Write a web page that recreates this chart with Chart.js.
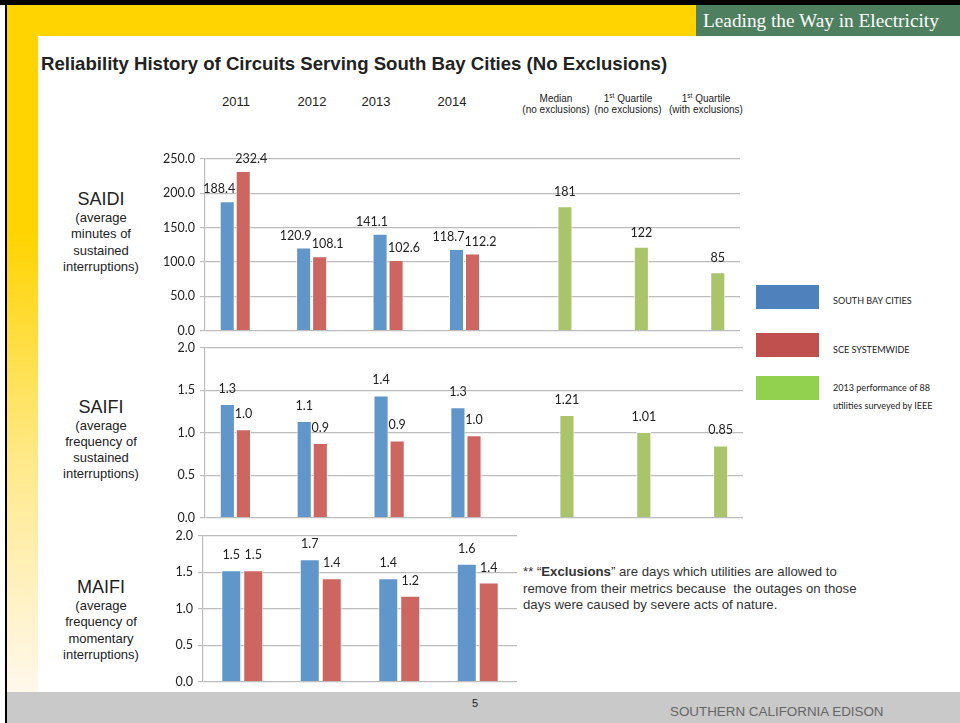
<!DOCTYPE html>
<html>
<head>
<meta charset="utf-8">
<script src="https://cdn.jsdelivr.net/npm/chart.js@4.4.1/dist/chart.umd.min.js"></script>
<style>
  html, body { margin: 0; padding: 0; }
  body { width: 960px; height: 723px; position: relative; overflow: hidden; background: #fff; font-family: Arial, "Liberation Sans", sans-serif; color: #222; }
  .abs { position: absolute; }
  #topbar { left: 0; top: 0; width: 960px; height: 5px; background: #000; }
  #leftline { left: 5px; top: 0; width: 2px; height: 723px; background: #000; }
  #yellowTop { left: 7px; top: 5px; width: 953px; height: 31px; background: #FFD400; }
  #yellowLeft { left: 7px; top: 36px; width: 31px; height: 656px; background: linear-gradient(#FFD400 0%, #FFD400 30%, #FFE98A 65%, #FFF8EC 100%); }
  #brand { left: 696px; top: 5px; width: 264px; height: 31px; background: #4E7F5E; color: #fff; font-family: "Liberation Serif", "DejaVu Serif", serif; font-size: 19.3px; line-height: 31px; padding-left: 7px; box-sizing: border-box; white-space: nowrap; }
  #footer { left: 7px; top: 692px; width: 953px; height: 31px; background: #C9C9C9; }
  #pageno { left: 472px; top: 697px; font-size: 11px; color: #222; }
  #company { left: 670px; top: 704px; font-size: 13.4px; color: #666; }
  #title { left: 41px; top: 53px; font-size: 18.6px; font-weight: bold; color: #222; white-space: nowrap; }
  .yr { top: 94px; font-size: 13px; width: 40px; text-align: center; }
  .hdr { top: 93px; font-size: 10px; text-align: center; line-height: 11px; white-space: nowrap; }
  .hdr sup { font-size: 6.5px; vertical-align: 4px; line-height: 0; }
  .side { left: 41px; width: 120px; text-align: center; font-size: 13px; line-height: 16.3px; color: #222; }
  .side b { font-weight: normal; font-size: 18px; line-height: 22px; display: block; }
  .lg { left: 756px; width: 63px; height: 24px; }
  .lgt { left: 833px; font-family: Lato, "Open Sans", sans-serif; font-size: 10.4px; color: #222; line-height: 18px; white-space: nowrap; transform: scaleX(0.87); transform-origin: 0 0; }
  #note { left: 523px; top: 564px; font-size: 13.2px; line-height: 16.5px; color: #333; white-space: nowrap; }
  canvas { position: absolute; }
</style>
</head>
<body>
<div class="abs" id="topbar"></div>
<div class="abs" id="yellowTop"></div>
<div class="abs" id="yellowLeft"></div>
<div class="abs" id="leftline"></div>
<div class="abs" id="brand">Leading the Way in Electricity</div>
<div class="abs" id="footer"></div>
<div class="abs" id="pageno">5</div>
<div class="abs" id="company">SOUTHERN CALIFORNIA EDISON</div>

<div class="abs" id="title">Reliability History of Circuits Serving South Bay Cities (No Exclusions)</div>

<div class="abs yr" style="left:216px">2011</div>
<div class="abs yr" style="left:292px">2012</div>
<div class="abs yr" style="left:356px">2013</div>
<div class="abs yr" style="left:432px">2014</div>
<div class="abs hdr" style="left:516px;width:80px">Median<br>(no exclusions)</div>
<div class="abs hdr" style="left:588px;width:80px">1<sup>st</sup> Quartile<br>(no exclusions)</div>
<div class="abs hdr" style="left:665px;width:82px">1<sup>st</sup> Quartile<br>(with exclusions)</div>

<div class="abs side" style="top:188px"><b>SAIDI</b>(average<br>minutes of<br>sustained<br>interruptions)</div>
<div class="abs side" style="top:396px;line-height:16px"><b>SAIFI</b>(average<br>frequency of<br>sustained<br>interruptions)</div>
<div class="abs side" style="top:576px"><b>MAIFI</b>(average<br>frequency of<br>momentary<br>interruptions)</div>

<div class="abs lg" style="top:285px;background:#4F81BD"></div>
<div class="abs lgt" style="top:291px">SOUTH BAY CITIES</div>
<div class="abs lg" style="top:333px;background:#C0504D"></div>
<div class="abs lgt" style="top:340px">SCE SYSTEMWIDE</div>
<div class="abs lg" style="top:376px;background:#92D050"></div>
<div class="abs lgt" style="top:378px">2013 performance of 88<br>utilities surveyed by IEEE</div>

<div class="abs" id="note">** “<b>Exclusions</b>” are days which utilities are allowed to<br>remove from their metrics because&nbsp; the outages on those<br>days were caused by severe acts of nature.</div>

<canvas id="saidi" width="600" height="203" style="left:150px;top:140px"></canvas>
<canvas id="saifi" width="603" height="200" style="left:150px;top:330px"></canvas>
<canvas id="maifi" width="379" height="178" style="left:148px;top:516px"></canvas>

<script>
// categories shared by SAIDI and SAIFI (last three are the IEEE benchmarks)
const categories = ['2011', '2012', '2013', '2014', 'Median (no exclusions)', '1st Quartile (no exclusions)', '1st Quartile (with exclusions)'];
const years = ['2011', '2012', '2013', '2014'];

const saidiSouthBay = [188.4, 120.9, 141.1, 118.7, null, null, null];
const saidiSce      = [232.4, 108.1, 102.6, 112.2, null, null, null];
const saidiIeee     = [null, null, null, null, 181, 122, 85];

const saifiSouthBay = [1.34, 1.14, 1.44, 1.30, null, null, null];
const saifiSce      = [1.04, 0.88, 0.91, 0.97, null, null, null];
const saifiIeee     = [null, null, null, null, 1.21, 1.01, 0.85];

const maifiSouthBay = [1.53, 1.68, 1.42, 1.62];
const maifiSce      = [1.53, 1.42, 1.18, 1.36];

const saidiTicks = [0, 50, 100, 150, 200, 250];
const rateTicks = [0, 0.5, 1.0, 1.5, 2.0];

const BLUE = '#6196CB', RED = '#CD6561', GREEN = '#A9C46B';
const TICK_FONT = { family: 'Lato, "Open Sans", sans-serif', size: 12.5 };

// draws the value above each bar
const barLabels = {
    id: 'barLabels',
    afterDatasetsDraw(chart, args, opts) {
        const ctx = chart.ctx;
        ctx.save();
        ctx.font = '12.5px Lato, "Open Sans", sans-serif';
        ctx.fillStyle = '#222';
        ctx.textAlign = 'center';
        ctx.textBaseline = 'middle';
        chart.data.datasets.forEach((ds, i) => {
            const meta = chart.getDatasetMeta(i);
            meta.data.forEach((bar, j) => {
                const v = ds.data[j];
                if (v === null || v === undefined) return;
                ctx.fillText(v.toFixed(opts.decimals[i]), bar.x + opts.dx[i], bar.y - opts.gap[i]);
            });
        });
        ctx.restore();
    }
};

function makeChart(id, labels, sets, ticks, tickDecimals, catPct, barPct, padTop, padBottom, labelOpts) {
    new Chart(document.getElementById(id), {
        type: 'bar',
        data: {
            labels: labels,
            datasets: sets.map(s => ({
                data: s.data,
                backgroundColor: s.color,
                borderColor: 'rgba(255,255,255,0.9)',
                borderWidth: 1,
                categoryPercentage: catPct,
                barPercentage: barPct
            }))
        },
        options: {
            responsive: false,
            maintainAspectRatio: false,
            animation: false,
            layout: { padding: { top: padTop, bottom: padBottom, left: 0, right: 10 } },
            plugins: { legend: { display: false }, tooltip: { enabled: false }, barLabels: labelOpts },
            scales: {
                x: { display: false },
                y: {
                    min: ticks[0],
                    max: ticks[ticks.length - 1],
                    afterBuildTicks: s => { s.ticks = ticks.map(v => ({ value: v })); },
                    afterFit: s => { s.width = 55; },
                    grid: { color: '#BDBDBD', lineWidth: 1.2, tickLength: 5, drawTicks: true },
                    border: { color: '#BDBDBD', width: 1.2 },
                    ticks: {
                        padding: 5,
                        color: '#222',
                        font: TICK_FONT,
                        callback: v => Number(v).toFixed(tickDecimals)
                    }
                }
            }
        },
        plugins: [barLabels]
    });
}

makeChart('saidi', categories,
    [{ data: saidiSouthBay, color: BLUE }, { data: saidiSce, color: RED }, { data: saidiIeee, color: GREEN }],
    saidiTicks, 1, 0.628, 0.94, 19, 10,
    { decimals: [1, 1, 0], dx: [-8, 8, 0], gap: [12, 12, 14] });

makeChart('saifi', categories,
    [{ data: saifiSouthBay, color: BLUE }, { data: saifiSce, color: RED }, { data: saifiIeee, color: GREEN }],
    rateTicks, 1, 0.628, 0.94, 18, 10,
    { decimals: [1, 1, 2], dx: [0, 0, 0], gap: [15, 15, 15] });

makeChart('maifi', years,
    [{ data: maifiSouthBay, color: BLUE }, { data: maifiSce, color: RED }],
    rateTicks, 1, 0.56, 0.91, 20, 10,
    { decimals: [1, 1], dx: [0, 0], gap: [15, 15] });
</script>
</body>
</html>
